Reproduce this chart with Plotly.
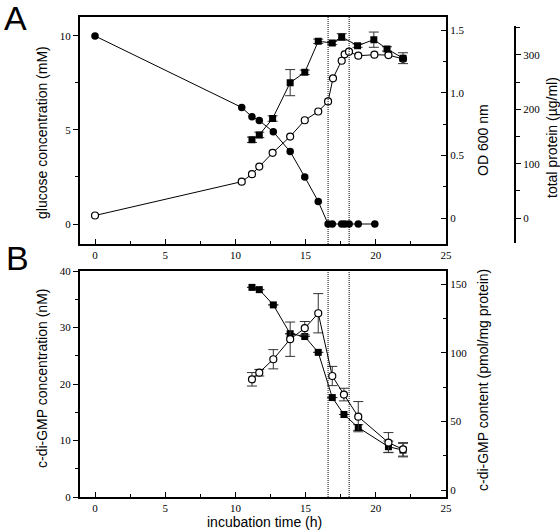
import plotly.graph_objects as go

# ---------------- Panel A data ----------------
glc_t = [0, 10.45, 11.18, 11.7, 12.7, 13.9, 14.94, 15.9, 16.6, 16.9, 17.57, 17.8, 18.1, 18.75, 19.93]
glc_v = [10, 6.2, 5.7, 5.5, 4.9, 3.85, 2.5, 1.2, 0, 0, 0, 0, 0, 0, 0]

od_t = [0, 10.45, 11.18, 11.7, 12.65, 13.9, 14.94, 15.9, 16.6, 16.95, 17.57, 17.78, 18.09, 18.75, 19.9, 20.9, 21.94]
od_v = [0.02, 0.29, 0.35, 0.41, 0.52, 0.65, 0.78, 0.85, 0.93, 1.115, 1.255, 1.306, 1.327, 1.295, 1.303, 1.30, 1.27]

prot_t = [11.18, 11.7, 12.65, 13.9, 14.94, 15.9, 16.9, 17.57, 18.7, 19.86, 20.8, 21.94]
prot_v = [144, 153, 183, 249, 268, 325, 322, 333, 317, 328, 311, 294]
prot_e = [5, 5, 5, 24, 4, 4, 3, 6, 3, 14, 4, 10]

# ---------------- Panel B data ----------------
cdg_t = [11.18, 11.7, 12.7, 13.9, 14.94, 15.9, 16.9, 17.73, 18.75, 20.9, 21.94]
cdg_nM = [37.1, 36.7, 34.0, 28.9, 28.4, 25.6, 17.6, 14.6, 12.3, 8.9, 8.3]
cdg_nM_e = [0, 0, 0, 0, 0, 0, 0, 0, 0.5, 1.0, 1.2]

cont_t = [11.18, 11.7, 12.7, 13.9, 14.94, 15.9, 16.9, 17.73, 18.75, 20.9, 21.94]
cont_v = [80.6, 85.4, 95.2, 109.8, 117.8, 128.7, 83.0, 69.5, 53.4, 34.5, 29.6]
cont_e = [4.9, 2.4, 7.0, 12.5, 4.9, 14.3, 7.0, 4.6, 11.0, 7.3, 4.9]

phase_lines = [16.6, 18.1]

# tick labels
x_ticks = [0, 5, 10, 15, 20, 25]
glc_ticks = [0, 5, 10]
od_ticks = [0, 0.5, 1.0, 1.5]
od_ticklabels = ["0", "0.5", "1.0", "1.5"]
prot_ticks = [0, 100, 200, 300]
cdg_ticks = [0, 10, 20, 30, 40]
cont_ticks = [0, 50, 100, 150]

W, H = 560, 532
def fx(px): return px / W
def fy(py): return 1 - py / H

serif = "Liberation Serif, Times New Roman, serif"
sans = "Liberation Sans, Arial, sans-serif"
tickfont = dict(family=serif, size=11, color="black")

fig = go.Figure()

# Panel A traces
fig.add_trace(go.Scatter(x=od_t, y=od_v, xaxis="x", yaxis="y2", mode="lines+markers",
                         line=dict(color="black", width=1),
                         marker=dict(symbol="circle", size=7, color="white",
                                     line=dict(color="black", width=1.2))))
fig.add_trace(go.Scatter(x=glc_t, y=glc_v, xaxis="x", yaxis="y", mode="lines+markers",
                         line=dict(color="black", width=1),
                         marker=dict(symbol="circle", size=7.5, color="black")))
fig.add_trace(go.Scatter(x=prot_t, y=prot_v, xaxis="x", yaxis="y5", mode="lines+markers",
                         line=dict(color="black", width=1),
                         error_y=dict(type="data", array=prot_e, visible=True,
                                      color="#333333", thickness=1, width=5),
                         marker=dict(symbol="square", size=7, color="black")))

# Panel B traces
fig.add_trace(go.Scatter(x=cont_t, y=cont_v, xaxis="x2", yaxis="y4", mode="lines+markers",
                         line=dict(color="black", width=1),
                         error_y=dict(type="data", array=cont_e, visible=True,
                                      color="#333333", thickness=1, width=5),
                         marker=dict(symbol="circle", size=7, color="white",
                                     line=dict(color="black", width=1.2))))
fig.add_trace(go.Scatter(x=cdg_t, y=cdg_nM, xaxis="x2", yaxis="y3", mode="lines+markers",
                         line=dict(color="black", width=1),
                         error_y=dict(type="data", array=cdg_nM_e, visible=True,
                                      color="#333333", thickness=1, width=5),
                         marker=dict(symbol="square", size=7, color="black")))

xr = [-1.07, 25]
xdom = [fx(80), fx(446)]
domA = [fy(244), fy(17)]
domB = [fy(497), fy(271)]

common_x = dict(range=xr, domain=xdom, tickmode="array", tickvals=x_ticks,
                ticks="inside", ticklen=5, tickcolor="black", tickwidth=1,
                showline=True, linecolor="black", linewidth=2, mirror=True,
                showgrid=False, zeroline=False, tickfont=tickfont,
                minor=dict(tickmode="linear", tick0=0, dtick=2.5, ticks="inside",
                           ticklen=3, tickcolor="black", showgrid=False))

fig.update_layout(
    width=W, height=H, margin=dict(l=0, r=0, t=0, b=0, autoexpand=False),
    paper_bgcolor="white", plot_bgcolor="rgba(0,0,0,0)", showlegend=False,
    xaxis=dict(anchor="y", **common_x),
    xaxis2=dict(anchor="y3", **common_x),
    yaxis=dict(domain=domA, range=[-1.064, 11.01], anchor="x",
               tickmode="array", tickvals=glc_ticks,
               ticks="outside", ticklen=5, tickcolor="black",
               showline=True, linecolor="black", linewidth=2,
               showgrid=False, zeroline=False, tickfont=tickfont,
               minor=dict(tickmode="linear", tick0=0, dtick=2.5, ticks="outside",
                          ticklen=3, tickcolor="black", showgrid=False)),
    yaxis2=dict(overlaying="y", side="right", anchor="x", range=[-0.2075, 1.604],
                tickmode="array", tickvals=od_ticks, ticktext=od_ticklabels,
                ticks="inside", ticklen=5, tickcolor="black",
                showline=True, linecolor="black", linewidth=2,
                showgrid=False, zeroline=False, tickfont=tickfont,
                minor=dict(tickmode="linear", tick0=0, dtick=0.25, ticks="inside",
                           ticklen=3, tickcolor="black", showgrid=False)),
    yaxis5=dict(domain=[fy(243.3), fy(25.7)], anchor="free", position=fx(515),
                side="right", range=[-46.3, 353.7],
                tickmode="array", tickvals=prot_ticks,
                ticks="outside", ticklen=5, tickcolor="black",
                showline=True, linecolor="black", linewidth=2,
                showgrid=False, zeroline=False, tickfont=tickfont,
                minor=dict(tickmode="linear", tick0=50, dtick=100, ticks="outside",
                           ticklen=4, tickcolor="black", showgrid=False)),
    yaxis3=dict(domain=domB, range=[0, 40], anchor="x2",
                tickmode="array", tickvals=cdg_ticks,
                ticks="outside", ticklen=5, tickcolor="black",
                showline=True, linecolor="black", linewidth=2,
                showgrid=False, zeroline=False, tickfont=tickfont,
                minor=dict(tickmode="linear", tick0=0, dtick=5, ticks="outside",
                           ticklen=3, tickcolor="black", showgrid=False)),
    yaxis4=dict(overlaying="y3", side="right", anchor="x2", range=[-5.1, 159.47],
                tickmode="array", tickvals=cont_ticks,
                ticks="inside", ticklen=5, tickcolor="black",
                showline=True, linecolor="black", linewidth=2,
                showgrid=False, zeroline=False, tickfont=tickfont,
                minor=dict(tickmode="linear", tick0=0, dtick=25, ticks="inside",
                           ticklen=3, tickcolor="black", showgrid=False)),
)

# vertical dotted phase lines
for xref, yref in [("x", "y domain"), ("x2", "y3 domain")]:
    for t in phase_lines:
        fig.add_shape(type="line", xref=xref, yref=yref, x0=t, x1=t, y0=0, y1=1,
                      line=dict(color="black", width=1, dash="1px,1px"))

title_font = dict(family=sans, size=14, color="black")
annos = [
    dict(text="glucose concentration (mM)", x=fx(42), y=fy(133), textangle=-90),
    dict(text="OD 600 nm", x=fx(483), y=fy(140), textangle=-90),
    dict(text="total protein (µg/ml)", x=fx(552), y=fy(138), textangle=-90),
    dict(text="c-di-GMP concentration (nM)", x=fx(42), y=fy(379), textangle=-90),
    dict(text="c-di-GMP content (pmol/mg protein)", x=fx(483), y=fy(380), textangle=-90),
    dict(text="incubation time (h)", x=fx(264), y=fy(522), textangle=0),
]
for a in annos:
    fig.add_annotation(xref="paper", yref="paper", xanchor="center", yanchor="middle",
                       showarrow=False, font=title_font, **a)

for lab, x, y in [("A", 15, 18), ("B", 17, 258)]:
    fig.add_annotation(text=lab, xref="paper", yref="paper", x=fx(x), y=fy(y),
                       xanchor="center", yanchor="middle", showarrow=False,
                       font=dict(family=sans, size=34, color="black"))

fig.write_html("out.html", config={"displayModeBar": False},
               post_script="document.body.style.margin='0';document.body.style.overflow='hidden';")
